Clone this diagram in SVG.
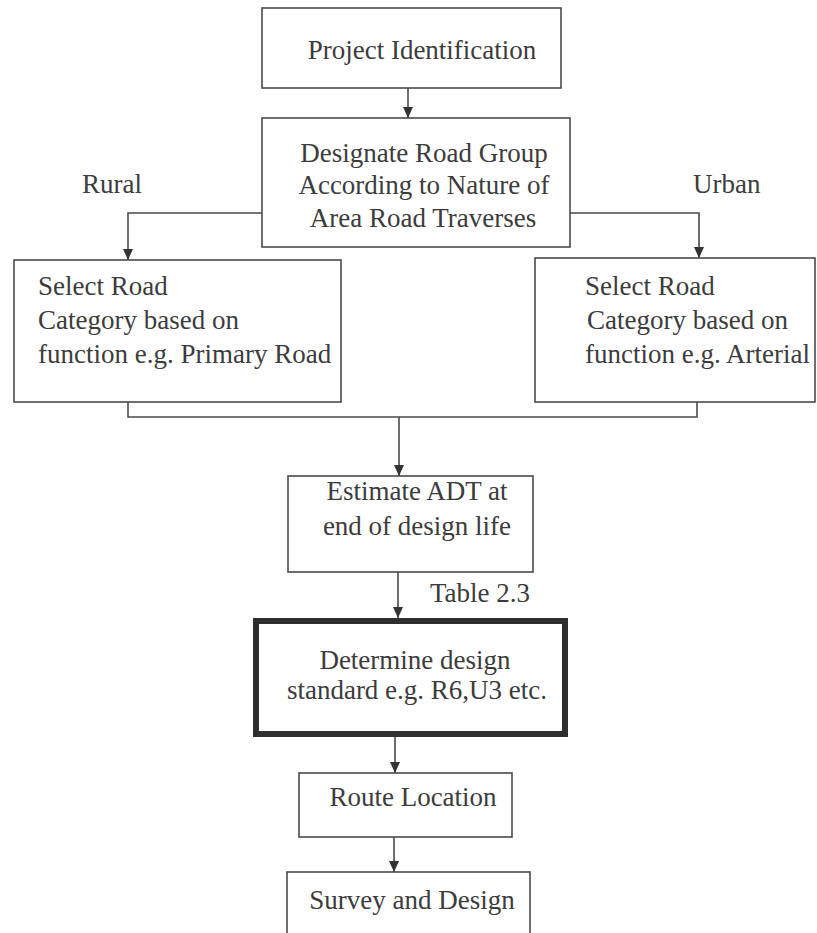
<svg xmlns="http://www.w3.org/2000/svg" width="817" height="933" viewBox="0 0 817 933">
<defs>
<style>
.box{fill:#fff;stroke:#4a4a4a;stroke-width:1.6}
.thick{fill:#fff;stroke:#2e2e2e;stroke-width:6}
.t{font-family:'Liberation Serif','Times New Roman',serif;font-size:27px;fill:#3c3c3c}
.c{text-anchor:middle}
.ln{fill:none;stroke:#4a4a4a;stroke-width:1.6}
</style>
<marker id="ah" markerWidth="11" markerHeight="10" refX="11" refY="5" orient="auto" markerUnits="userSpaceOnUse" viewBox="0 0 11 10">
<path d="M0,0 L11,5 L0,10 Z" fill="#333"/>
</marker>
</defs>
<rect width="817" height="933" fill="#fff"/>
<g id="connectors">
<line class="ln" x1="408" y1="88" x2="408" y2="118" marker-end="url(#ah)"/>
<polyline class="ln" points="262,213 128,213 128,260" marker-end="url(#ah)"/>
<polyline class="ln" points="570,213 699,213 699,258" marker-end="url(#ah)"/>
<polyline class="ln" points="128,402 128,417 697,417 697,402"/>
<line class="ln" x1="399" y1="417" x2="399" y2="476" marker-end="url(#ah)"/>
<line class="ln" x1="398" y1="572" x2="398" y2="618" marker-end="url(#ah)"/>
<line class="ln" x1="395" y1="737" x2="395" y2="773" marker-end="url(#ah)"/>
<line class="ln" x1="394" y1="837" x2="394" y2="872" marker-end="url(#ah)"/>
</g>
<g id="label-rural"><text class="t" x="82" y="193">Rural</text></g>
<g id="label-urban"><text class="t" x="693" y="193">Urban</text></g>
<g id="label-table"><text class="t" x="430" y="602">Table 2.3</text></g>
<g id="n1">
<rect class="box" x="262" y="8" width="299" height="80"/>
<text class="t c" x="422" y="59">Project Identification</text>
</g>
<g id="n2">
<rect class="box" x="262" y="118" width="308" height="129"/>
<text class="t c" x="424" y="162">Designate Road Group</text>
<text class="t c" x="424" y="194">According to Nature of</text>
<text class="t c" x="423" y="227">Area Road Traverses</text>
</g>
<g id="n3">
<rect class="box" x="14" y="260" width="327" height="142"/>
<text class="t" x="38" y="295">Select Road</text>
<text class="t" x="38" y="329">Category based on</text>
<text class="t" x="38" y="363">function e.g. Primary Road</text>
</g>
<g id="n4">
<rect class="box" x="535" y="258" width="280" height="144"/>
<text class="t" x="585" y="295">Select Road</text>
<text class="t" x="587" y="329">Category based on</text>
<text class="t" x="585" y="363">function e.g. Arterial</text>
</g>
<g id="n5">
<rect class="box" x="288" y="476" width="245" height="96"/>
<text class="t c" x="417" y="500">Estimate ADT at</text>
<text class="t c" x="417" y="535">end of design life</text>
</g>
<g id="n6">
<rect class="thick" x="256" y="621" width="309" height="113"/>
<text class="t c" x="415" y="669">Determine design</text>
<text class="t c" x="417" y="699">standard e.g. R6,U3 etc.</text>
</g>
<g id="n7">
<rect class="box" x="299" y="773" width="213" height="64"/>
<text class="t c" x="413" y="806">Route Location</text>
</g>
<g id="n8">
<rect class="box" x="287" y="872" width="243" height="80"/>
<text class="t c" x="412" y="909">Survey and Design</text>
</g>
</svg>
